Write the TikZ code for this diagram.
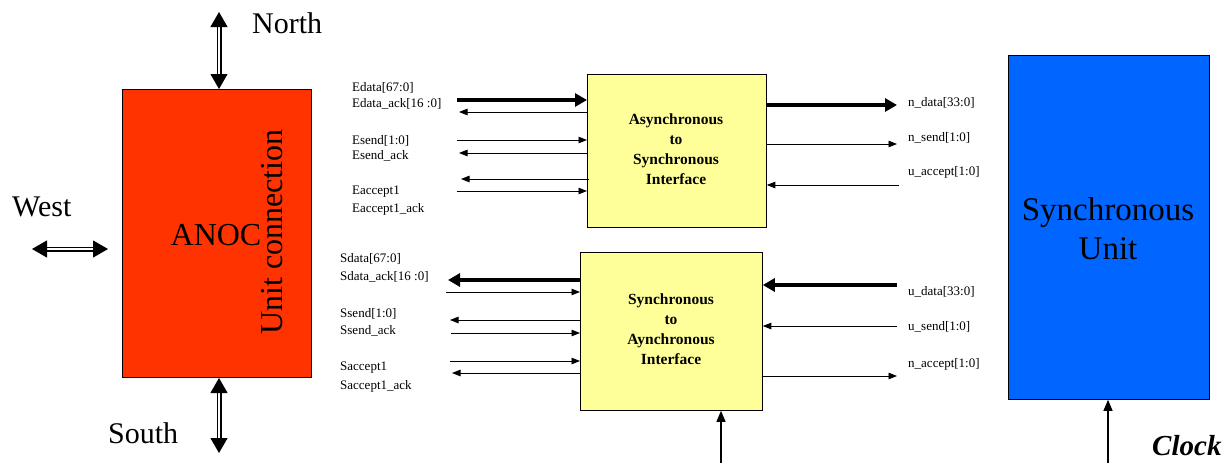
\documentclass[tikz,border=0pt]{standalone}
\usepackage{fontspec}
\setmainfont{Liberation Serif}
\usetikzlibrary{arrows.meta}
\definecolor{anocred}{RGB}{255,51,0}
\definecolor{syncblue}{RGB}{0,102,255}
\definecolor{ifyellow}{RGB}{255,255,153}
\tikzset{
  blockbox/.style={draw=black, line width=0.8pt, inner sep=0pt, anchor=north west},
  iftext/.style={font=\fontsize{15.5}{20}\selectfont\bfseries, align=center},
  siglabel/.style={font=\fontsize{13}{15}\selectfont, anchor=west, inner sep=0pt},
  biglabel/.style={font=\fontsize{30}{34}\selectfont, inner sep=0pt},
  thinsig/.style={line width=0.9pt, -{Triangle[length=8.5pt,width=6.5pt]}},
  thicksig/.style={line width=3.5pt, -{Triangle[length=12pt,width=13pt]}},
  dblarrow/.style={double, double distance=2.8pt, line width=1.1pt,
    {Triangle[length=15pt,width=17pt]}-{Triangle[length=15pt,width=17pt]}},
}
\begin{document}
\begin{tikzpicture}[x=1pt,y=-1pt]
\useasboundingbox (0,0) rectangle (1230,463);

% blocks
\node[blockbox, fill=anocred, minimum width=189pt, minimum height=288pt] (anoc) at (122,89) {};
\node[blockbox, fill=syncblue, minimum width=201pt, minimum height=344pt] (su) at (1008,55) {};
\node[blockbox, fill=ifyellow, minimum width=179pt, minimum height=153pt] (top) at (587,74) {};
\node[blockbox, fill=ifyellow, minimum width=182pt, minimum height=158pt] (bot) at (580,252) {};

% block texts
\node[font=\fontsize{32}{36}\selectfont, inner sep=0pt] (anoctext) at (216,235) {ANOC};
\node[font=\fontsize{32}{36}\selectfont, inner sep=0pt, rotate=90] (unitconn) at (272,232) {Unit connection};
\node[font=\fontsize{33}{39}\selectfont, align=center, inner sep=0pt] (sutext) at (1108,229) {Synchronous\\Unit};
\node[iftext] (toptext) at (676,149) {Asynchronous\\to\\Synchronous\\Interface};
\node[iftext] (bottext) at (671,329) {Synchronous\\to\\Aynchronous\\Interface};

% compass
\coordinate (ntop) at (219,12);
\coordinate (sbot) at (219,453);
\coordinate (wl) at (32,249);
\coordinate (wr) at (108,249);
\draw[dblarrow] (ntop) -- (ntop |- anoc.north);
\draw[dblarrow] (219,378) -- (sbot);
\draw[dblarrow] (wl) -- (wr);
\node[biglabel, anchor=west] (north) at (252,23) {North};
\node[biglabel, anchor=west] (west) at (12,207) {West};
\node[biglabel, anchor=west] (south) at (108,433) {South};

% top-left signals
\coordinate (a1) at (457,100);
\coordinate (a2) at (459,112);
\coordinate (a3) at (457,140);
\coordinate (a4) at (459,153);
\coordinate (a5) at (461,179);
\coordinate (a6) at (457,191);
\draw[thicksig] (a1) -- (a1 -| top.west);
\draw[thinsig] (a2 -| top.west) -- (a2);
\draw[thinsig] (a3) -- (a3 -| top.west);
\draw[thinsig] (a4 -| top.west) -- (a4);
\draw[thinsig] ([xshift=2pt]a5 -| top.west) -- (a5);
\draw[thinsig] (a6) -- (a6 -| top.west);
\node[siglabel] (l1) at (352,88) {Edata[67:0]};
\node[siglabel] (l2) at (352,104) {Edata\_ack[16 :0]};
\node[siglabel] (l3) at (352,141) {Esend[1:0]};
\node[siglabel] (l4) at (352,156) {Esend\_ack};
\node[siglabel] (l5) at (352,192) {Eaccept1};
\node[siglabel] (l6) at (352,209) {Eaccept1\_ack};

% top-right signals
\coordinate (b1) at (897,105);
\coordinate (b2) at (897,144);
\coordinate (b3) at (899,185);
\draw[thicksig] (b1 -| top.east) -- (b1);
\draw[thinsig] (b2 -| top.east) -- (b2);
\draw[thinsig] (b3) -- (b3 -| top.east);
\node[siglabel] (r1) at (908,103) {n\_data[33:0]};
\node[siglabel] (r2) at (908,138) {n\_send[1:0]};
\node[siglabel] (r3) at (908,172) {u\_accept[1:0]};

% bottom-left signals
\coordinate (c1) at (448,280);
\coordinate (c2) at (446,292);
\coordinate (c3) at (450,320);
\coordinate (c4) at (451,333);
\coordinate (c5) at (450,361);
\coordinate (c6) at (452,373);
\draw[thicksig] (c1 -| bot.west) -- (c1);
\draw[thinsig] (c2) -- (c2 -| bot.west);
\draw[thinsig] (c3 -| bot.west) -- (c3);
\draw[thinsig] (c4) -- (c4 -| bot.west);
\draw[thinsig] (c5) -- (c5 -| bot.west);
\draw[thinsig] (c6 -| bot.west) -- (c6);
\node[siglabel] (m1) at (340,259) {Sdata[67:0]};
\node[siglabel] (m2) at (340,277) {Sdata\_ack[16 :0]};
\node[siglabel] (m3) at (340,314) {Ssend[1:0]};
\node[siglabel] (m4) at (340,331) {Ssend\_ack};
\node[siglabel] (m5) at (340,368) {Saccept1};
\node[siglabel] (m6) at (340,386) {Saccept1\_ack};

% bottom-right signals
\coordinate (d1) at (897,285);
\coordinate (d2) at (897,326);
\coordinate (d3) at (897,376);
\draw[thicksig] (d1) -- (d1 -| bot.east);
\draw[thinsig] (d2) -- (d2 -| bot.east);
\draw[thinsig] (d3 -| bot.east) -- (d3);
\node[siglabel] (s1) at (908,292) {u\_data[33:0]};
\node[siglabel] (s2) at (908,327) {u\_send[1:0]};
\node[siglabel] (s3) at (908,364) {n\_accept[1:0]};

% clocks
\coordinate (clkb) at (721,463);
\coordinate (clks) at (1108,463);
\draw[line width=1.2pt, -{Triangle[length=11pt,width=9pt]}] (clkb) -- (clkb |- bot.south);
\draw[line width=1.2pt, -{Triangle[length=11pt,width=9pt]}] (clks) -- (clks |- su.south);
\node[font=\fontsize{29}{32}\selectfont\bfseries\itshape, anchor=west, inner sep=0pt] (clock) at (1152,446) {Clock};
\end{tikzpicture}
\end{document}
